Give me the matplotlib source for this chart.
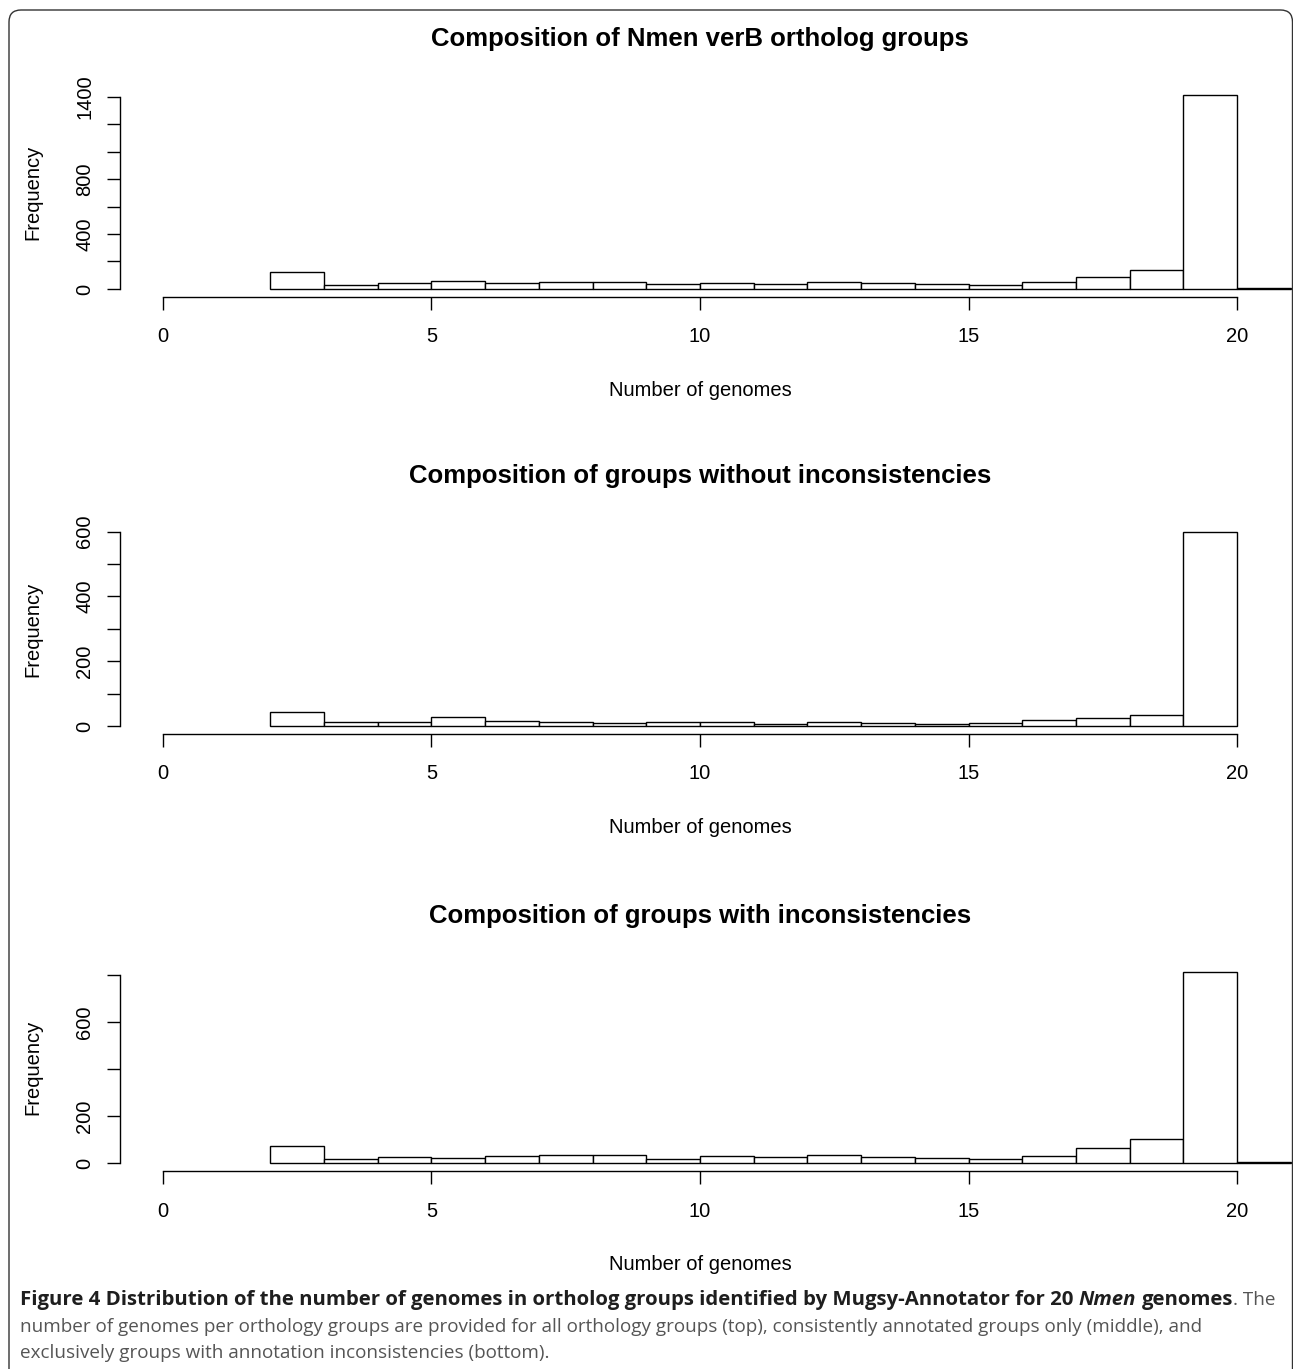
import matplotlib
matplotlib.use('Agg')
import matplotlib.pyplot as plt
from matplotlib.patches import FancyBboxPatch
from matplotlib.transforms import IdentityTransform

plt.rcParams['font.family'] = ['Liberation Sans', 'DejaVu Sans']

W, H = 1293, 1369

# histogram bins: [2,3), [3,4), ... [20,21)
bin_left = list(range(2, 21))
counts_all = [120, 28, 40, 55, 44, 48, 48, 36, 45, 33, 48, 40, 33, 30, 50, 90, 139, 1412, 7]
counts_consistent = [44, 11, 13, 29, 14, 13, 10, 12, 13, 7, 12, 10, 6, 8, 17, 26, 33, 598, 0]
counts_inconsistent = [75, 17, 26, 24, 30, 34, 37, 20, 30, 27, 34, 27, 24, 20, 33, 64, 103, 814, 7]

titles = ['Composition of Nmen verB ortholog groups',
          'Composition of groups without inconsistencies',
          'Composition of groups with inconsistencies']
yticks = [[0, 200, 400, 600, 800, 1000, 1200, 1400],
          [0, 100, 200, 300, 400, 500, 600],
          [0, 200, 400, 600, 800]]
yticklabels = [['0', '', '400', '', '800', '', '', '1400'],
               ['0', '', '200', '', '400', '', '600'],
               ['0', '200', '', '600', '']]
xticks = [0, 5, 10, 15, 20]

caption_line1 = [('Figure 4 Distribution of the number of genomes in ortholog groups identified by Mugsy-Annotator for 20', 'bold', 'normal', True),
                 ('Nmen', 'bold', 'italic', True),
                 ('genomes', 'bold', 'normal', True),
                 ('. The', 'normal', 'normal', False)]
caption_line2 = 'number of genomes per orthology groups are provided for all orthology groups (top), consistently annotated groups only (middle), and'
caption_line3 = 'exclusively groups with annotation inconsistencies (bottom).'

# panel placement in pixels (top, bottom) of the plot region
panel_px = [(87.3, 296.7), (524.6, 733.7), (964.4, 1170.9)]
left_px, right_px = 120, 1280

fig = plt.figure(figsize=(W / 100, H / 100), dpi=100)

all_counts = [counts_all, counts_consistent, counts_inconsistent]
for i, counts in enumerate(all_counts):
    top, bot = panel_px[i]
    ax = fig.add_axes([left_px / W, 1 - bot / H, (right_px - left_px) / W, (bot - top) / H])
    lefts = [b for b, c in zip(bin_left, counts) if c > 0]
    vals = [c for c in counts if c > 0]
    ax.bar(lefts, vals, width=1, align='edge', color='white', edgecolor='black',
           linewidth=1.0, clip_on=False)
    m = max(counts)
    ax.set_xlim(-0.8, 20.8)
    ax.set_ylim(-0.04 * m, 1.04 * m)
    for s in ['top', 'right']:
        ax.spines[s].set_visible(False)
    ax.spines['bottom'].set_bounds(0, 20)
    ax.spines['left'].set_bounds(0, yticks[i][-1])
    for s in ['bottom', 'left']:
        ax.spines[s].set_linewidth(1.0)
    ax.set_xticks(xticks)
    ax.set_xticklabels([str(t) for t in xticks])
    ax.set_yticks(yticks[i])
    ax.set_yticklabels(yticklabels[i], rotation=90, va='center')
    ax.tick_params(axis='both', direction='out', length=9.1, width=1.0, labelsize=14.5)
    ax.tick_params(axis='x', pad=13)
    ax.tick_params(axis='y', pad=9.5)
    ax.set_title(titles[i], fontsize=18.5, fontweight='bold', pad=30)
    ax.set_xlabel('Number of genomes', fontsize=14.5)
    ax.set_ylabel('Frequency', fontsize=14.5)
    ax.xaxis.set_label_coords(0.5, -84 / (bot - top))
    ax.yaxis.set_label_coords((42 - left_px) / (right_px - left_px), 0.5)

# caption
renderer = fig.canvas.get_renderer()
cap_font = ['Open Sans', 'DejaVu Sans']
bold_col = '#1e1e1e'
reg_col = '#555555'


def text_width(s, size, **kw):
    t = fig.text(0, 0, s, fontsize=size, family=cap_font, **kw)
    w = t.get_window_extent(renderer).width
    t.remove()
    return w


def space_width(size, **kw):
    return text_width('n n', size, **kw) - text_width('nn', size, **kw)


def layout_line1(bsize, rsize, x0, y):
    arts = []
    x = x0
    for k, (s, wt, st, gap) in enumerate(caption_line1):
        size = bsize if wt == 'bold' else rsize
        if k > 0 and gap:
            x += space_width(size)
        t = fig.text(x / W, 1 - y / H, s, fontsize=size, family=cap_font, fontweight=wt,
                     fontstyle=st, color=bold_col if wt == 'bold' else reg_col,
                     ha='left', va='baseline')
        arts.append(t)
        x = t.get_window_extent(renderer).x1
    return arts, x


x0 = 20
line1_end = 1277
line2_end = 1203
# regular text size from the width of the second line
rsize = 10 * (line2_end - x0) / text_width(caption_line2, 10)
arts, xe = layout_line1(10, rsize, x0, 1305)
for a in arts:
    a.remove()
tail = text_width(caption_line1[-1][0], rsize)
bsize = 10 * (line1_end - x0 - tail) / (xe - x0 - tail)
layout_line1(bsize, rsize, x0, 1305)
fig.text(x0 / W, 1 - 1332 / H, caption_line2, fontsize=rsize, family=cap_font,
         color=reg_col, ha='left', va='baseline')
fig.text(x0 / W, 1 - 1358 / H, caption_line3, fontsize=rsize, family=cap_font,
         color=reg_col, ha='left', va='baseline')

# rounded frame around the figure
frame = FancyBboxPatch((9, -40), 1292.5 - 9, (H - 10) + 40, boxstyle='round,pad=0,rounding_size=12',
                       transform=IdentityTransform(), facecolor='none', edgecolor='#333333',
                       linewidth=1.0)
fig.add_artist(frame)

fig.savefig('out.png', dpi=100)
